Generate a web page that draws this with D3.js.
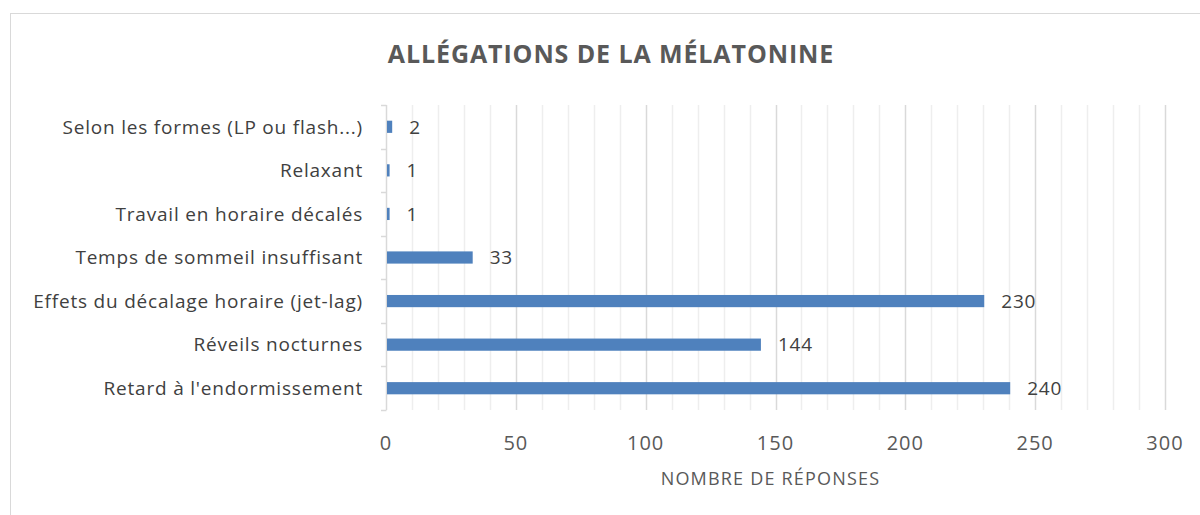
<!DOCTYPE html>
<html>
<head>
<meta charset="utf-8">
<script src="https://cdn.jsdelivr.net/npm/d3@7"></script>
<style>
  body { margin: 0; background: #fff; }
  svg text { font-family: "Open Sans", Lato, sans-serif; }
</style>
</head>
<body>
<div id="vis"></div>
<script>
// chart data, top category first
const CATEGORIES = [
  "Selon les formes (LP ou flash...)",
  "Relaxant",
  "Travail en horaire décalés",
  "Temps de sommeil insuffisant",
  "Effets du décalage horaire (jet-lag)",
  "Réveils nocturnes",
  "Retard à l'endormissement"
];
const VALUES = [2, 1, 1, 33, 230, 144, 240];
const X_TICKS = [0, 50, 100, 150, 200, 250, 300];
const TITLE = "ALLÉGATIONS DE LA MÉLATONINE";
const X_TITLE = "NOMBRE DE RÉPONSES";

// frame constants
const FRAME_WIDTH = 1200;
const FRAME_HEIGHT = 515;
const MARGINS = {left: 386, right: 35, top: 105, bottom: 105};
const VIS_WIDTH = 1165 - MARGINS.left;
const VIS_HEIGHT = 410 - MARGINS.top;

const FRAME = d3.select("#vis")
  .append("svg")
  .attr("width", FRAME_WIDTH)
  .attr("height", FRAME_HEIGHT);

// chart border (runs off the right and bottom edges)
FRAME.append("rect")
  .attr("x", 10.5)
  .attr("y", 13.5)
  .attr("width", 1300)
  .attr("height", 600)
  .attr("fill", "#fff")
  .attr("stroke", "#d9d9d9")
  .attr("stroke-width", 1);

// scales
const X_SCALE = d3.scaleLinear()
  .domain([0, 300])
  .range([0, VIS_WIDTH]);

const Y_SCALE = d3.scaleBand()
  .domain(CATEGORIES)
  .range([0, VIS_HEIGHT])
  .paddingInner(0.72)
  .paddingOuter(0.36);

const G = FRAME.append("g")
  .attr("transform", "translate(" + MARGINS.left + "," + MARGINS.top + ")");

// minor gridlines every 10
G.append("g")
  .selectAll("line")
  .data(d3.range(10, 301, 10).filter((d) => d % 50 !== 0))
  .enter()
  .append("line")
  .attr("x1", (d) => Math.round(X_SCALE(d)) + 0.5)
  .attr("x2", (d) => Math.round(X_SCALE(d)) + 0.5)
  .attr("y1", 0)
  .attr("y2", VIS_HEIGHT)
  .attr("stroke", "#eeeeee")
  .attr("stroke-width", 1.5);

// major gridlines every 50
G.append("g")
  .selectAll("line")
  .data(X_TICKS.slice(1))
  .enter()
  .append("line")
  .attr("x1", (d) => Math.round(X_SCALE(d)) + 0.5)
  .attr("x2", (d) => Math.round(X_SCALE(d)) + 0.5)
  .attr("y1", 0)
  .attr("y2", VIS_HEIGHT)
  .attr("stroke", "#d9d9d9")
  .attr("stroke-width", 1.5);

// y axis line with ticks between categories
G.append("line")
  .attr("x1", 0.5).attr("x2", 0.5)
  .attr("y1", 0).attr("y2", VIS_HEIGHT)
  .attr("stroke", "#d9d9d9")
  .attr("stroke-width", 1.5);
G.append("g")
  .selectAll("line")
  .data(d3.range(CATEGORIES.length + 1))
  .enter()
  .append("line")
  .attr("x1", -5).attr("x2", 0.5)
  .attr("y1", (d) => Math.round(d * VIS_HEIGHT / CATEGORIES.length) + 0.5)
  .attr("y2", (d) => Math.round(d * VIS_HEIGHT / CATEGORIES.length) + 0.5)
  .attr("stroke", "#d9d9d9")
  .attr("stroke-width", 1.5);

// bars
G.selectAll(".bar")
  .data(CATEGORIES)
  .enter()
  .append("rect")
  .attr("class", "bar")
  .attr("x", 1)
  .attr("y", (d) => Y_SCALE(d))
  .attr("width", (d, i) => X_SCALE(VALUES[i]))
  .attr("height", Y_SCALE.bandwidth())
  .attr("fill", "#4f81bd");

// value labels
G.selectAll(".val")
  .data(CATEGORIES)
  .enter()
  .append("text")
  .attr("class", "val")
  .attr("x", (d, i) => X_SCALE(VALUES[i]) + 18)
  .attr("y", (d) => Y_SCALE(d) + Y_SCALE.bandwidth() / 2)
  .attr("dy", "0.36em")
  .attr("font-size", "19px")
  .attr("letter-spacing", "0.8px")
  .attr("fill", "#404040")
  .text((d, i) => VALUES[i]);

// category labels
G.selectAll(".cat")
  .data(CATEGORIES)
  .enter()
  .append("text")
  .attr("class", "cat")
  .attr("x", -23)
  .attr("y", (d) => Y_SCALE(d) + Y_SCALE.bandwidth() / 2)
  .attr("dy", "0.36em")
  .attr("text-anchor", "end")
  .attr("font-size", "19px")
  .attr("letter-spacing", "0.8px")
  .attr("fill", "#404040")
  .text((d) => d);

// x tick labels
G.selectAll(".xtick")
  .data(X_TICKS)
  .enter()
  .append("text")
  .attr("class", "xtick")
  .attr("x", (d) => X_SCALE(d))
  .attr("y", VIS_HEIGHT + 40)
  .attr("text-anchor", "middle")
  .attr("font-size", "20px")
  .attr("letter-spacing", "1px")
  .attr("fill", "#595959")
  .text((d) => d);

// axis title
G.append("text")
  .attr("x", VIS_WIDTH / 2 - 5)
  .attr("y", VIS_HEIGHT + 75)
  .attr("text-anchor", "middle")
  .attr("font-size", "18px")
  .attr("letter-spacing", "1.2px")
  .attr("fill", "#595959")
  .text(X_TITLE);

// chart title
FRAME.append("text")
  .attr("x", 611)
  .attr("y", 63)
  .attr("text-anchor", "middle")
  .attr("font-size", "25px")
  .attr("font-weight", "bold")
  .attr("letter-spacing", "0.9px")
  .attr("fill", "#595959")
  .text(TITLE);
</script>
</body>
</html>
